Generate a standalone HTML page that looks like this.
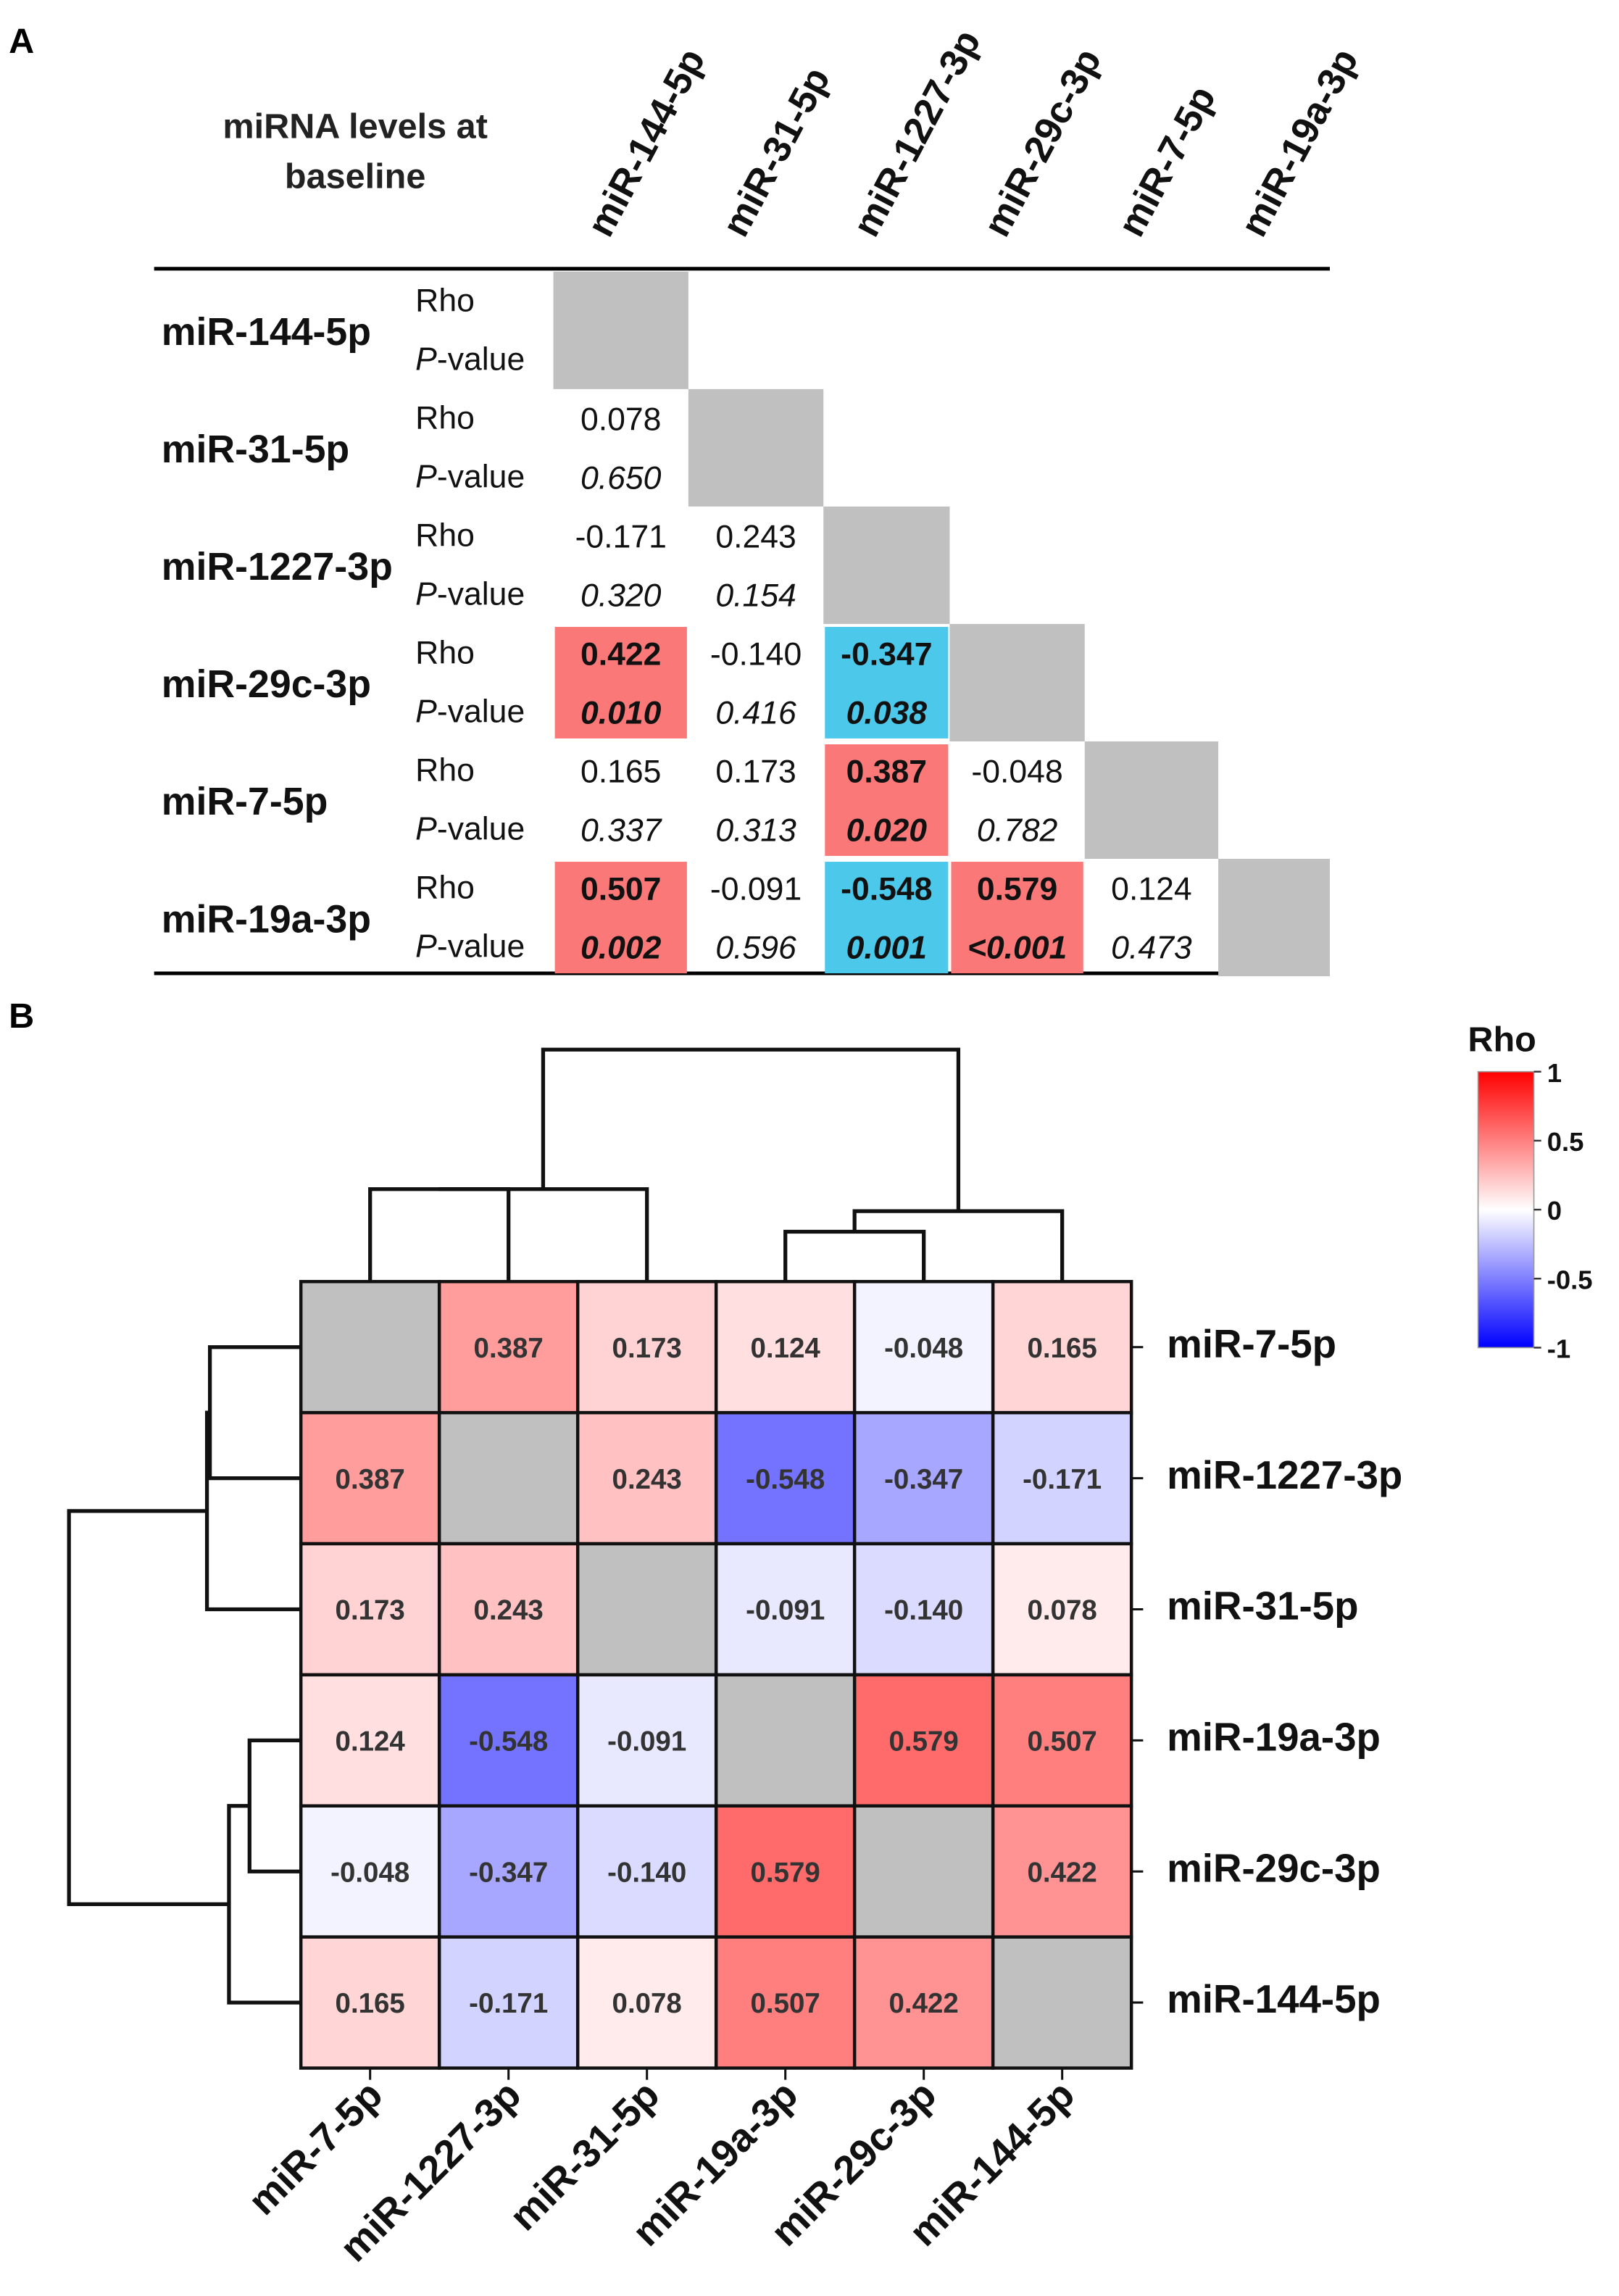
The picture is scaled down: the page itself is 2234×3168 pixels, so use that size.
<!DOCTYPE html>
<html><head><meta charset="utf-8"><style>
html,body{margin:0;padding:0;background:#fff}
svg{display:block;font-family:"Liberation Sans",Arial,sans-serif}
</style></head><body>
<svg id="fig" width="2234" height="3168" viewBox="0 0 1103 1564" xmlns="http://www.w3.org/2000/svg">
<text x="6" y="36" font-size="24" font-weight="bold">A</text>
<text x="6" y="700" font-size="24" font-weight="bold">B</text>
<g font-size="24" font-weight="bold" text-anchor="middle" fill="#222">
<text x="242" y="94">miRNA levels at</text><text x="242" y="128">baseline</text></g>
<g id="tableA"></g>
<g id="heat"></g>
<g id="legend"></g>
</svg>
<script>
const names = ["miR-144-5p","miR-31-5p","miR-1227-3p","miR-29c-3p","miR-7-5p","miR-19a-3p"];
const tableRho = [[],["0.078"],["-0.171","0.243"],["0.422","-0.140","-0.347"],["0.165","0.173","0.387","-0.048"],["0.507","-0.091","-0.548","0.579","0.124"]];
const tableP = [[],["0.650"],["0.320","0.154"],["0.010","0.416","0.038"],["0.337","0.313","0.020","0.782"],["0.002","0.596","0.001","<0.001","0.473"]];
const heatOrder = ["miR-7-5p","miR-1227-3p","miR-31-5p","miR-19a-3p","miR-29c-3p","miR-144-5p"];
const heatVals = [
 [null,0.387,0.173,0.124,-0.048,0.165],
 [0.387,null,0.243,-0.548,-0.347,-0.171],
 [0.173,0.243,null,-0.091,-0.140,0.078],
 [0.124,-0.548,-0.091,null,0.579,0.507],
 [-0.048,-0.347,-0.140,0.579,null,0.422],
 [0.165,-0.171,0.078,0.507,0.422,null]];
const legendTicks = [1,0.5,0,-0.5,-1];
const legendLabels = ["1","0.5","0","-0.5","-1"];

const NS="http://www.w3.org/2000/svg";
function mk(p,t,a){const e=document.createElementNS(NS,t);for(const k in a)e.setAttribute(k,a[k]);p.appendChild(e);return e;}

// ---------- Table A ----------
const T=document.getElementById('tableA');
const colEdges=[377,469,561,647,739,830,906];
const rowTop=185,rowH=80;
const colX=i=>(colEdges[i]+colEdges[i+1])/2;
const rowY=i=>rowTop+i*rowH;
let l=mk(T,'line',{x1:105,y1:183,x2:906,y2:183,stroke:'#000','stroke-width':2.5});


l=mk(T,'line',{x1:105,y1:663,x2:906,y2:663,stroke:'#000','stroke-width':2.5});


names.forEach((n,i)=>{
  const h=mk(T,'text',{transform:`translate(${colX(i)-8},${163}) rotate(-62)`,'font-size':26,'font-weight':'bold',fill:'#111'});
  h.textContent=n;
  
  
  const y=rowY(i);
  const g=mk(T,'rect',{x:colEdges[i],y:y,width:colEdges[i+1]-colEdges[i],height:rowH,fill:'#c0c0c0'});
  
  
  const rl=mk(T,'text',{x:110,y:y+50,'font-size':26.5,'font-weight':'bold',fill:'#111'});
  rl.textContent=n;
  
  
  const r1=mk(T,'text',{x:283,y:y+27,'font-size':22,fill:'#111'});r1.textContent='Rho';
  
  
  const r2=mk(T,'text',{x:283,y:y+67,'font-size':22,fill:'#111'});
  r2.innerHTML='<tspan font-style="italic">P</tspan>-value';
  
  
  tableRho[i].forEach((v,j)=>{
    const p=tableP[i][j];
    const pnum=p.startsWith('<')?0.0009:parseFloat(p);
    const sig=pnum<0.05;
    if(sig){
      const c=mk(T,'rect',{x:colEdges[j]+1,y:y+2,width:colEdges[j+1]-colEdges[j]-2,height:rowH-4,fill:parseFloat(v)>0?'#fa7878':'#4cc8ea'});
      
      
    }
    const a=mk(T,'text',{x:colX(j),y:y+28,'text-anchor':'middle','font-size':22,fill:'#111','font-weight':sig?'bold':'normal'});
    a.textContent=v;
    
    
    const b=mk(T,'text',{x:colX(j),y:y+68,'text-anchor':'middle','font-size':22,fill:'#111','font-style':'italic','font-weight':sig?'bold':'normal'});
    b.textContent=p;
    
    
  });
});

// ---------- Heatmap B ----------
const H=document.getElementById('heat');
const hx0=205,hy0=873,cw=94.3,ch=89.3;
const xs=i=>hx0+i*cw, ys=i=>hy0+i*ch;
function color(v){const t=Math.min(1,Math.abs(v));const o=Math.round(255*(1-t));return v>=0?`rgb(255,${o},${o})`:`rgb(${o},${o},255)`;}
heatVals.forEach((row,i)=>row.forEach((v,j)=>{
  const r=mk(H,'rect',{x:xs(j),y:ys(i),width:cw,height:ch,fill:v===null?'#c0c0c0':color(v),stroke:'#111','stroke-width':2.2});
  
  
  if(v!==null){
    const t=mk(H,'text',{x:xs(j)+cw/2,y:ys(i)+ch/2+7,'text-anchor':'middle','font-size':19,'font-weight':'bold',fill:'#333'});
    t.textContent=v.toFixed(3);
    
    
  }
}));
heatOrder.forEach((n,i)=>{
  mk(H,'line',{x1:xs(6),y1:ys(i)+ch/2,x2:xs(6)+8,y2:ys(i)+ch/2,stroke:'#111','stroke-width':1.5});
  const t=mk(H,'text',{x:795,y:ys(i)+ch/2+7,'font-size':27,'font-weight':'bold',fill:'#111'});
  t.textContent=n;
  
  
  mk(H,'line',{x1:xs(i)+cw/2,y1:ys(6),x2:xs(i)+cw/2,y2:ys(6)+8,stroke:'#111','stroke-width':1.5});
  const c=mk(H,'text',{transform:`translate(${xs(i)+cw/2+10},${ys(6)+20}) rotate(-45)`,'text-anchor':'end','font-size':27,'font-weight':'bold',fill:'#111'});
  c.textContent=n;
  
  
});
// dendrograms
const cxL=i=>xs(i)+cw/2, cyL=i=>ys(i)+ch/2;
function seg(d,nm){const p=mk(H,'path',{d:d,fill:'none',stroke:'#111','stroke-width':2.6});
  
  }
const a12=(cxL(0)+cxL(1))/2, aL=(a12+cxL(2))/2, a45=(cxL(3)+cxL(4))/2, aR=(a45+cxL(5))/2;
seg(`M${cxL(0)},${hy0}V810H${cxL(1)}V${hy0}`,'top-dendrogram');
seg(`M${a12},810H${cxL(2)}V${hy0}`,'top-dendrogram');
seg(`M${cxL(3)},${hy0}V839H${cxL(4)}V${hy0}`,'top-dendrogram');
seg(`M${a45},839V825H${cxL(5)}V${hy0}`,'top-dendrogram');
seg(`M${aL},810V715H${aR}V825`,'top-dendrogram');
const b12=(cyL(0)+cyL(1))/2, bL=(b12+cyL(2))/2, b45=(cyL(3)+cyL(4))/2, bR=(b45+cyL(5))/2;
seg(`M${hx0},${cyL(0)}H143V${cyL(1)}H${hx0}`,'left-dendrogram');
seg(`M143,${b12}H141V${cyL(2)}H${hx0}`,'left-dendrogram');
seg(`M${hx0},${cyL(3)}H170V${cyL(4)}H${hx0}`,'left-dendrogram');
seg(`M170,${b45}H156V${cyL(5)}H${hx0}`,'left-dendrogram');
seg(`M141,${bL}H47V${bR}H156`,'left-dendrogram');

// ---------- Legend ----------
const L=document.getElementById('legend');
const defs=mk(L,'defs',{});
const gr=mk(defs,'linearGradient',{id:'rg',x1:0,y1:0,x2:0,y2:1});
mk(gr,'stop',{offset:'0',  'stop-color':'#ff0000'});
mk(gr,'stop',{offset:'0.5','stop-color':'#ffffff'});
mk(gr,'stop',{offset:'1',  'stop-color':'#0000ff'});
const ly=v=>824-v*94;
const bar=mk(L,'rect',{x:1007,y:ly(1),width:38,height:ly(-1)-ly(1),fill:'url(#rg)',stroke:'#999','stroke-width':0.8});


const rt=mk(L,'text',{x:1000,y:716,'font-size':24,'font-weight':'bold',fill:'#111'});rt.textContent='Rho';


legendTicks.forEach((v,i)=>{
  mk(L,'line',{x1:1045,y1:ly(v),x2:1050,y2:ly(v),stroke:'#333','stroke-width':1.2});
  const t=mk(L,'text',{x:1054,y:ly(v)+7,'font-size':18,'font-weight':'bold',fill:'#111'});
  t.textContent=legendLabels[i];
  
  
});
</script>
</body></html>
